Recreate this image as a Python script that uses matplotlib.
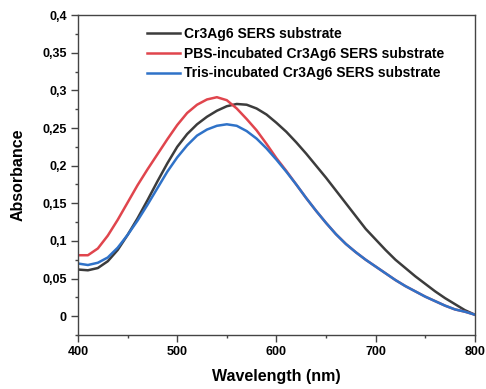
import matplotlib
matplotlib.use("Agg")
import matplotlib.pyplot as plt
from matplotlib.ticker import MultipleLocator

plt.rcParams['font.family'] = ['Liberation Sans', 'DejaVu Sans']
plt.rcParams['font.weight'] = 'bold'

# wavelength grid (nm)
wavelength = [400, 410, 420, 430, 440, 450, 460, 470, 480, 490,
              500, 510, 520, 530, 540, 550, 560, 570, 580, 590,
              600, 610, 620, 630, 640, 650, 660, 670, 680, 690,
              700, 710, 720, 730, 740, 750, 760, 770, 780, 790, 800]

# absorbance readings
cr3ag6 = [0.062, 0.061, 0.064, 0.073, 0.088, 0.108, 0.130, 0.154, 0.179, 0.203,
          0.225, 0.242, 0.255, 0.265, 0.273, 0.279, 0.282, 0.281, 0.276, 0.268,
          0.257, 0.245, 0.231, 0.216, 0.200, 0.184, 0.167, 0.150, 0.133, 0.116,
          0.102, 0.088, 0.075, 0.064, 0.053, 0.043, 0.033, 0.024, 0.016, 0.008, 0.002]

pbs = [0.081, 0.081, 0.090, 0.107, 0.128, 0.151, 0.174, 0.195, 0.215, 0.235,
       0.254, 0.270, 0.281, 0.288, 0.291, 0.287, 0.276, 0.262, 0.247, 0.229,
       0.210, 0.193, 0.175, 0.157, 0.140, 0.124, 0.109, 0.096, 0.085, 0.075,
       0.066, 0.057, 0.048, 0.040, 0.033, 0.026, 0.020, 0.014, 0.009, 0.006, 0.002]

tris = [0.070, 0.068, 0.071, 0.078, 0.091, 0.108, 0.127, 0.148, 0.170, 0.192,
        0.211, 0.227, 0.240, 0.248, 0.253, 0.255, 0.253, 0.246, 0.236, 0.223,
        0.208, 0.192, 0.175, 0.157, 0.140, 0.124, 0.109, 0.096, 0.085, 0.075,
        0.066, 0.057, 0.048, 0.040, 0.033, 0.026, 0.020, 0.014, 0.009, 0.006, 0.002]

labels = ["Cr3Ag6 SERS substrate",
          "PBS-incubated Cr3Ag6 SERS substrate",
          "Tris-incubated Cr3Ag6 SERS substrate"]
colors = ["#3c3c3c", "#e0454d", "#2f72c8"]

xticks = [400, 500, 600, 700, 800]
yticks = [0, 0.05, 0.1, 0.15, 0.2, 0.25, 0.3, 0.35, 0.4]
ytick_labels = ["0", "0,05", "0,1", "0,15", "0,2", "0,25", "0,3", "0,35", "0,4"]

fig = plt.figure(figsize=(4.86, 3.89), dpi=100)
ax = fig.add_axes([0.1605, 0.1388, 0.8165, 0.8222])

for y, lab, c in zip([cr3ag6, pbs, tris], labels, colors):
    ax.plot(wavelength, y, color=c, lw=1.8, label=lab)

ax.set_xlim(400, 800)
ax.set_ylim(-0.025, 0.4)
ax.set_xticks(xticks)
ax.set_xticklabels([str(t) for t in xticks])
ax.set_yticks(yticks)
ax.set_yticklabels(ytick_labels)
ax.xaxis.set_minor_locator(MultipleLocator(50))
ax.yaxis.set_minor_locator(MultipleLocator(0.025))

ax.tick_params(which='major', direction='out', length=5, width=1, color='#444444',
               labelsize=9, pad=3)
ax.tick_params(which='minor', direction='out', length=2.5, width=1, color='#444444')
for s in ax.spines.values():
    s.set_color('#444444')
    s.set_linewidth(1)

ax.set_xlabel("Wavelength (nm)", fontsize=11.5, fontweight='bold', labelpad=8)
ax.set_ylabel("Absorbance", fontsize=11.5, fontweight='bold', labelpad=12)

ax.legend(loc='upper left', bbox_to_anchor=(0.152, 0.99), frameon=False,
          fontsize=10, handlelength=2.4, handletextpad=0.3, labelspacing=0.42,
          borderaxespad=0.2)

fig.savefig("out.png", dpi=100)
